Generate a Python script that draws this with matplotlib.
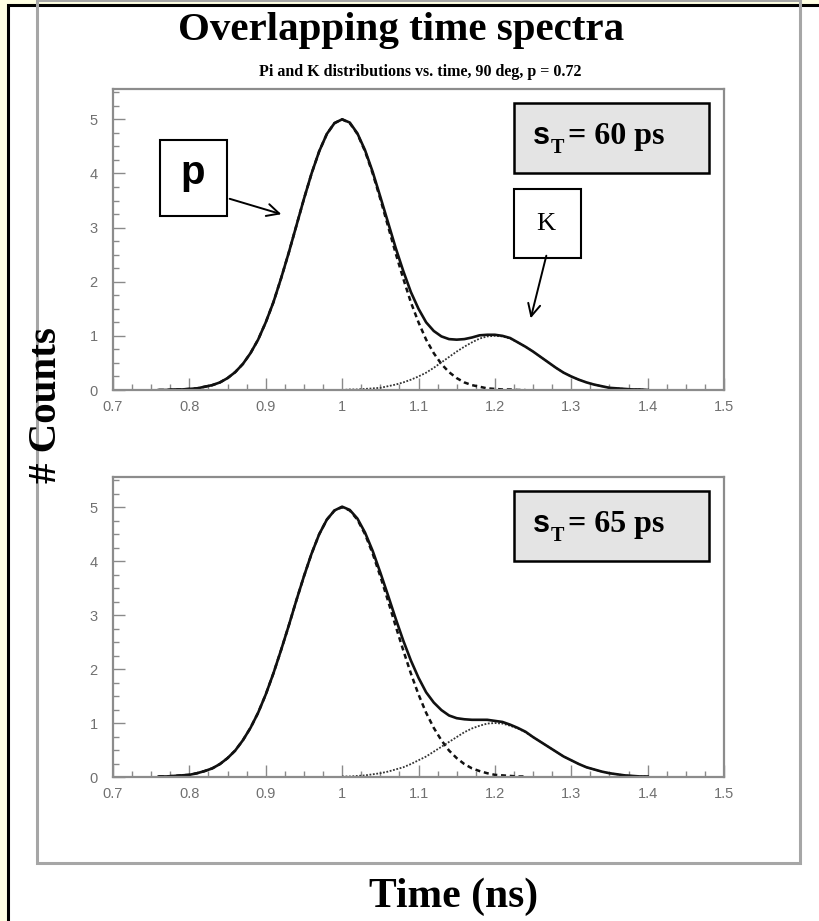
import matplotlib
matplotlib.use("Agg")
import matplotlib.pyplot as plt
from matplotlib.patches import Rectangle, FancyArrowPatch
from matplotlib.ticker import MultipleLocator, FuncFormatter
import numpy as np

# sample grid of the curves (ns)
time_ns = np.round(np.arange(0.76, 1.405, 0.01), 2)

# pion peak at 0.76 ... 1.24 ns
pi_60ps = [0.00, 0.00, 0.01, 0.01, 0.02, 0.03, 0.06, 0.09, 0.14, 0.22, 0.33, 0.48,
           0.68, 0.93, 1.25, 1.62, 2.06, 2.53, 3.03, 3.53, 4.00, 4.41, 4.73, 4.93,
           5.00, 4.93, 4.73, 4.41, 4.00, 3.53, 3.03, 2.53, 2.06, 1.62, 1.25, 0.93,
           0.68, 0.48, 0.33, 0.22, 0.14, 0.09, 0.06, 0.03, 0.02, 0.01, 0.01, 0.00, 0.00]
pi_65ps = [0.01, 0.01, 0.02, 0.03, 0.04, 0.07, 0.11, 0.16, 0.24, 0.35, 0.49, 0.68,
           0.91, 1.19, 1.53, 1.92, 2.35, 2.80, 3.27, 3.72, 4.14, 4.50, 4.77, 4.94,
           5.00, 4.94, 4.77, 4.50, 4.14, 3.72, 3.27, 2.80, 2.35, 1.92, 1.53, 1.19,
           0.91, 0.68, 0.49, 0.35, 0.24, 0.16, 0.11, 0.07, 0.04, 0.03, 0.02, 0.01, 0.01]

# kaon peak at 1.00 ... 1.40 ns
k_60ps = [0.00, 0.01, 0.01, 0.02, 0.03, 0.04, 0.07, 0.10, 0.14, 0.19, 0.25, 0.32,
          0.41, 0.51, 0.61, 0.71, 0.80, 0.88, 0.95, 0.99, 1.00, 0.99, 0.95, 0.88,
          0.80, 0.71, 0.61, 0.51, 0.41, 0.32, 0.25, 0.19, 0.14, 0.10, 0.07, 0.04,
          0.03, 0.02, 0.01, 0.01, 0.00]
k_65ps = [0.01, 0.01, 0.02, 0.03, 0.05, 0.07, 0.10, 0.14, 0.18, 0.24, 0.31, 0.38,
          0.47, 0.56, 0.65, 0.74, 0.83, 0.90, 0.95, 0.99, 1.00, 0.99, 0.95, 0.90,
          0.83, 0.74, 0.65, 0.56, 0.47, 0.38, 0.31, 0.24, 0.18, 0.14, 0.10, 0.07,
          0.05, 0.03, 0.02, 0.01, 0.01]

resolutions = ["60", "65"]
x_ticks = [0.7, 0.8, 0.9, 1.0, 1.1, 1.2, 1.3, 1.4, 1.5]
y_ticks = [0, 1, 2, 3, 4, 5]

W, H = 819, 921
SERIF = "Liberation Serif"
SANS = "Liberation Sans"


def fx(px):
    return px / W


def fy(py):
    return 1 - py / H


fig = plt.figure(figsize=(W / 100, H / 100), dpi=100)
fig.patch.set_facecolor("#FFFFE3")

# slide frame and the white canvas with its grey border
fig.patches.append(Rectangle((fx(8), fy(940)), fx(840) - fx(8), fy(5) - fy(940),
                             transform=fig.transFigure, facecolor="white",
                             edgecolor="black", lw=2.2, zorder=-2))
fig.patches.append(Rectangle((fx(37), fy(863)), fx(800) - fx(37), fy(0) - fy(863),
                             transform=fig.transFigure, facecolor="none",
                             edgecolor="#A6A6A6", lw=2.2, zorder=-1))

panels = [
    (pi_60ps, k_60ps, 89, 390),
    (pi_65ps, k_65ps, 477, 777),
]

axes = []
for pi_vals, k_vals, top, bottom in panels:
    ax = fig.add_axes([fx(113), fy(bottom), fx(724) - fx(113), fy(top) - fy(bottom)])
    ax.set_zorder(1)
    ax.set_facecolor("none")
    n = len(time_ns)
    pi_full = np.zeros(n)
    pi_full[:len(pi_vals)] = pi_vals
    k_full = np.zeros(n)
    k_full[n - len(k_vals):] = k_vals
    total = pi_full + k_full

    ax.plot(time_ns[:len(pi_vals)], pi_vals, color="#111111", lw=1.8,
            linestyle=(0, (2.0, 1.5)))
    ax.plot(time_ns[n - len(k_vals):], k_vals, color="#333333", lw=1.3,
            linestyle=(0, (1.0, 0.9)))
    ax.plot(time_ns, total, color="#111111", lw=1.9)

    ax.set_xlim(0.7, 1.5)
    ax.set_ylim(0, 5.56)
    ax.set_xticks(x_ticks)
    ax.set_yticks(y_ticks)
    ax.xaxis.set_minor_locator(MultipleLocator(0.025))
    ax.yaxis.set_minor_locator(MultipleLocator(0.25))
    ax.xaxis.set_major_formatter(FuncFormatter(lambda v, p: f"{v:g}"))
    ax.tick_params(which="both", direction="in", color="#8A8A8A", width=1.0,
                   labelcolor="#707070", labelsize=10.5)
    ax.tick_params(which="major", length=8.5)
    ax.tick_params(which="minor", length=4.5)
    ax.tick_params(axis="x", pad=7)
    ax.tick_params(axis="y", pad=11)
    for lab in ax.get_xticklabels() + ax.get_yticklabels():
        lab.set_fontfamily(SANS)
    for sp in ax.spines.values():
        sp.set_color("#8C8C8C")
        sp.set_linewidth(1.6)
    axes.append(ax)

# titles and axis titles
fig.text(fx(401), fy(40), "Overlapping time spectra", ha="center", va="baseline",
         fontsize=29.5, fontweight="bold", family=SERIF)
fig.text(fx(420), fy(72), "Pi and K distributions vs. time, 90 deg, p = 0.72",
         ha="center", va="center", fontsize=11.5, fontweight="bold", family=SERIF)
fig.text(fx(454), fy(897), "Time (ns)", ha="center", va="center",
         fontsize=30, fontweight="bold", family=SERIF)
fig.text(fx(46), fy(405), "# Counts", ha="center", va="center", rotation=90,
         fontsize=29.5, fontweight="bold", family=SERIF)

# sigma_T boxes
for res, box_top in zip(resolutions, [103, 491]):
    fig.patches.append(Rectangle((fx(514), fy(box_top + 70)), fx(709) - fx(514),
                                 fy(box_top) - fy(box_top + 70),
                                 transform=fig.transFigure, facecolor="#E4E4E4",
                                 edgecolor="black", lw=1.8, zorder=5))
    base = box_top + 41
    fig.text(fx(533), fy(base), "s", ha="left", va="baseline", fontsize=22,
             fontweight="bold", family=SANS, zorder=6)
    fig.text(fx(551), fy(base + 9), "T", ha="left", va="baseline", fontsize=14.5,
             fontweight="bold", family=SERIF, zorder=6)
    fig.text(fx(568), fy(base), f"= {res} ps", ha="left", va="baseline",
             fontsize=23, fontweight="bold", family=SERIF, zorder=6)

# p label box with arrow
fig.patches.append(Rectangle((fx(160), fy(216)), fx(227) - fx(160), fy(140) - fy(216),
                             transform=fig.transFigure, facecolor="white",
                             edgecolor="black", lw=1.5, zorder=5))
fig.text(fx(193), fy(184), "p", ha="center", va="baseline", fontsize=29,
         fontweight="bold", family=SANS, zorder=6)
fig.patches.append(FancyArrowPatch((fx(227), fy(198)), (fx(284), fy(215)),
                                   transform=fig.transFigure, arrowstyle="->",
                                   mutation_scale=22, lw=1.4, color="black", zorder=6))

# K label box with arrow
fig.patches.append(Rectangle((fx(514), fy(258)), fx(581) - fx(514), fy(189) - fy(258),
                             transform=fig.transFigure, facecolor="white",
                             edgecolor="black", lw=1.5, zorder=5))
fig.text(fx(546), fy(230), "K", ha="center", va="baseline", fontsize=19,
         family=SERIF, zorder=6)
fig.patches.append(FancyArrowPatch((fx(547), fy(253)), (fx(530), fy(321)),
                                   transform=fig.transFigure, arrowstyle="->",
                                   mutation_scale=22, lw=1.4, color="black", zorder=6))

fig.savefig("out.png", dpi=100, facecolor=fig.get_facecolor())
